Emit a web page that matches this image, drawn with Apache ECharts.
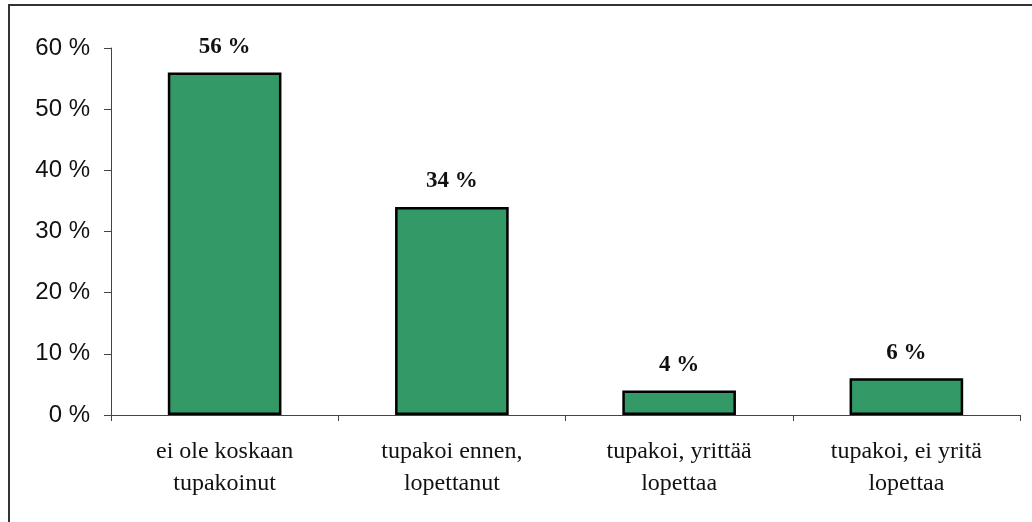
<!DOCTYPE html>
<html>
<head>
<meta charset="utf-8">
<script src="https://cdn.jsdelivr.net/npm/echarts@6/dist/echarts.min.js"></script>
<style>
  html, body { margin: 0; padding: 0; background: #ffffff; }
  #chart { width: 1032px; height: 522px; }
</style>
</head>
<body>
<div id="chart"></div>
<script>
// Tupakointitilanne: osuudet vastaajista (%)
const categories = [
  'ei ole koskaan\ntupakoinut',
  'tupakoi ennen,\nlopettanut',
  'tupakoi, yrittää\nlopettaa',
  'tupakoi, ei yritä\nlopettaa'
];
const shares = [56, 34, 4, 6];
const yTicks = [0, 10, 20, 30, 40, 50, 60];

const chart = echarts.init(document.getElementById('chart'), null, { renderer: 'canvas' });

chart.setOption({
  animation: false,
  backgroundColor: '#ffffff',
  grid: { left: 111, right: 12, top: 48, bottom: 107 },
  // frame lines along the top and left edge
  graphic: [
    { type: 'line', shape: { x1: 8, y1: 5, x2: 1032, y2: 5 }, style: { stroke: '#333333', lineWidth: 2 } },
    { type: 'line', shape: { x1: 9, y1: 4, x2: 9, y2: 522 }, style: { stroke: '#333333', lineWidth: 2 } }
  ],
  xAxis: {
    type: 'category',
    data: categories,
    boundaryGap: true,
    axisLine: { lineStyle: { color: '#444444', width: 1 } },
    axisTick: { show: true, length: 6, alignWithLabel: false, lineStyle: { color: '#444444' } },
    axisLabel: {
      color: '#111111',
      fontFamily: 'Liberation Serif',
      fontSize: 24,
      lineHeight: 32,
      margin: 21,
      interval: 0
    }
  },
  yAxis: {
    type: 'value',
    min: yTicks[0],
    max: yTicks[yTicks.length - 1],
    interval: 10,
    splitLine: { show: false },
    axisLine: { show: true, lineStyle: { color: '#444444', width: 1 } },
    axisTick: { show: true, length: 7, lineStyle: { color: '#444444' } },
    axisLabel: {
      color: '#111111',
      fontFamily: 'Liberation Sans',
      fontSize: 24,
      margin: 21,
      formatter: v => v + ' %'
    }
  },
  series: [{
    type: 'bar',
    data: shares,
    barWidth: '50%',
    itemStyle: { color: '#339966', borderColor: '#000000', borderWidth: 2.5 },
    label: {
      show: true,
      position: 'top',
      distance: 14,
      color: '#111111',
      fontFamily: 'Liberation Serif',
      fontWeight: 'bold',
      fontSize: 23,
      formatter: p => p.value + ' %'
    }
  }]
});
</script>
</body>
</html>
